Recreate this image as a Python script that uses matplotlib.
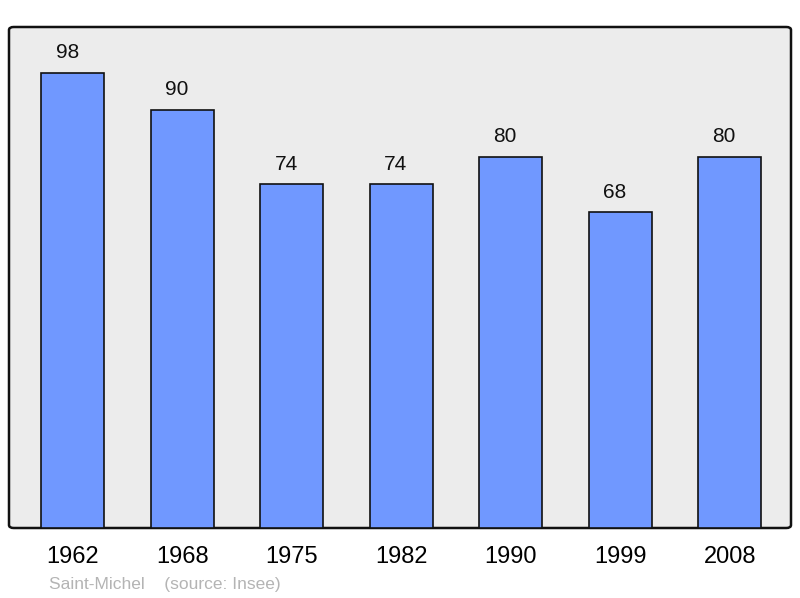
import matplotlib.pyplot as plt
from matplotlib.patches import FancyBboxPatch

years = ["1962", "1968", "1975", "1982", "1990", "1999", "2008"]
population = [98, 90, 74, 74, 80, 68, 80]

plt.rcParams['font.family'] = ['Liberation Sans', 'DejaVu Sans']

fig = plt.figure(figsize=(8, 5.98), dpi=100)
ax = fig.add_axes([9/800, 70/598, 782/800, 501/598])
ax.set_facecolor('none')

# rounded background box
bg = FancyBboxPatch((0, 0), 1, 1, boxstyle="round,pad=0,rounding_size=0.006",
                    transform=ax.transAxes, facecolor='#ececec', edgecolor='#111111',
                    linewidth=1.8, zorder=0, clip_on=False)
ax.add_patch(bg)

x = list(range(len(years)))
ax.bar(x, population, width=0.575, color='#7098ff', edgecolor='#111111', linewidth=1.2, zorder=2)

for xi, v in zip(x, population):
    ax.annotate(str(v), (xi, v), xytext=(-4, 14.5), textcoords='offset points',
                ha='center', va='center', fontsize=15, color='#111111')

ax.set_xlim(-0.584, 6.56)
ax.set_ylim(0, 107.9)
for s in ax.spines.values():
    s.set_visible(False)
ax.set_yticks([])
ax.set_xticks(x)
ax.set_xticklabels(years, fontsize=17)
ax.tick_params(axis='x', length=0, pad=13)

fig.text(49/800, 1 - 584/598, "Saint-Michel    (source: Insee)", fontsize=12.5,
         color='#b4b4b4', va='center', ha='left')

fig.savefig("out.png", dpi=100)
